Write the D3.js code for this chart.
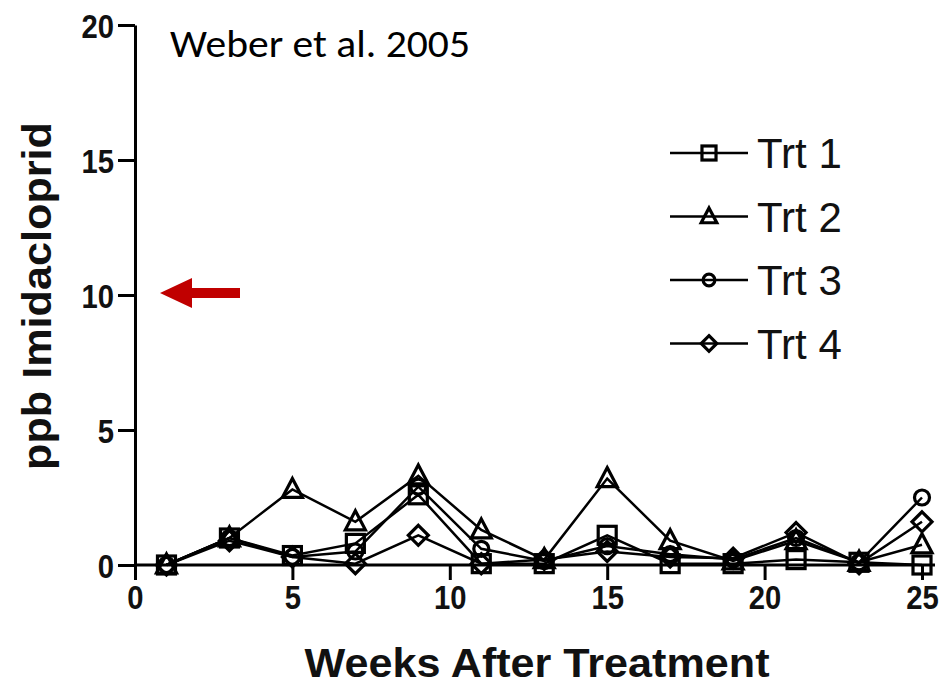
<!DOCTYPE html>
<html>
<head>
<meta charset="utf-8">
<script src="https://cdn.jsdelivr.net/npm/d3@7"></script>
<style>
  body { margin: 0; background: #fff; }
  .tick text { font-family: "Liberation Sans", Arial, sans-serif; font-weight: bold; }
</style>
</head>
<body>
<div id="chart"></div>
<script>
// data
const weeks = [1, 3, 5, 7, 9, 11, 13, 15, 17, 19, 21, 23, 25];
const trt1 = [0, 1.0, 0.35, 0.8, 2.6, 0.05, 0.05, 1.1, 0.05, 0.05, 0.2, 0.1, 0];
const trt2 = [0, 1.0, 2.8, 1.6, 3.3, 1.3, 0.2, 3.2, 0.9, 0.15, 0.9, 0.1, 0.75];
const trt3 = [0, 1.0, 0.3, 0.5, 2.9, 0.6, 0.15, 0.7, 0.4, 0.2, 1.0, 0.1, 2.5];
const trt4 = [0, 0.9, 0.3, 0.05, 1.1, 0.05, 0.2, 0.5, 0.3, 0.25, 1.2, 0.05, 1.6];
const seriesNames = ["Trt 1", "Trt 2", "Trt 3", "Trt 4"];
const seriesShapes = ["square", "triangle", "circle", "diamond"];
const xTicks = [0, 5, 10, 15, 20, 25];
const yTicks = [0, 5, 10, 15, 20];

const series = [trt1, trt2, trt3, trt4].map((vals, i) => ({
    name: seriesNames[i],
    shape: seriesShapes[i],
    values: weeks.map((w, j) => ({week: w, ppb: vals[j]}))
}));

const W = 944, H = 687;
const condense = 0.86;

const svg = d3.select("#chart")
    .append("svg")
    .attr("width", W)
    .attr("height", H);

const x = d3.scaleLinear().domain([0, 25]).range([135, 922]);
const y = d3.scaleLinear().domain([0, 20]).range([565, 25]);

// axes
const xAxis = svg.append("g")
    .attr("transform", `translate(0, ${y(0)})`)
    .call(d3.axisBottom(x).tickValues(xTicks).tickSize(15).tickSizeOuter(0).tickPadding(5));
xAxis.select(".domain").attr("d", `M${x(0)},0H935`);
xAxis.selectAll("line, path").attr("stroke", "#000").attr("stroke-width", 3);
xAxis.selectAll("text")
    .attr("font-size", 34)
    .attr("fill", "#111")
    .attr("transform", `scale(${condense},1)`);

const yAxis = svg.append("g")
    .attr("transform", `translate(${x(0)}, 0)`)
    .call(d3.axisLeft(y).tickValues(yTicks).tickSize(17).tickSizeOuter(0).tickPadding(3));
yAxis.selectAll("line, path").attr("stroke", "#000").attr("stroke-width", 3);
yAxis.selectAll("text")
    .attr("font-size", 34)
    .attr("fill", "#111")
    .attr("dy", "0.36em")
    .attr("x", -21 / condense)
    .attr("transform", `scale(${condense},1)`);

// axis titles
svg.append("text")
    .attr("x", 537)
    .attr("y", 677)
    .attr("text-anchor", "middle")
    .attr("font-family", "Liberation Sans, Arial, sans-serif")
    .attr("font-weight", "bold")
    .attr("font-size", 40)
    .attr("textLength", 465)
    .attr("lengthAdjust", "spacingAndGlyphs")
    .attr("fill", "#111")
    .text("Weeks After Treatment");

svg.append("text")
    .attr("transform", `translate(51, 296) rotate(-90)`)
    .attr("text-anchor", "middle")
    .attr("font-family", "Liberation Sans, Arial, sans-serif")
    .attr("font-weight", "bold")
    .attr("font-size", 40)
    .attr("textLength", 348)
    .attr("lengthAdjust", "spacingAndGlyphs")
    .attr("fill", "#111")
    .text("ppb Imidacloprid");

// citation
svg.append("text")
    .attr("x", 170)
    .attr("y", 57)
    .attr("font-family", "Carlito, 'Open Sans', Lato, sans-serif")
    .attr("font-size", 38)
    .attr("textLength", 300)
    .attr("lengthAdjust", "spacingAndGlyphs")
    .attr("fill", "#000")
    .text("Weber et al. 2005");

// hollow marker shapes (lines show through them, as in the original)
function marker(g, shape, k) {
    if (shape === "square") {
        g.append("rect").attr("x", -9 * k).attr("y", -9 * k).attr("width", 18 * k).attr("height", 18 * k);
    } else if (shape === "triangle") {
        g.append("path").attr("d", `M0,${-11 * k}L${10 * k},${8 * k}L${-10 * k},${8 * k}Z`);
    } else if (shape === "circle") {
        g.append("circle").attr("r", 7.5 * k);
    } else {
        g.append("path").attr("d", `M0,${-10 * k}L${10 * k},0L0,${10 * k}L${-10 * k},0Z`);
    }
    g.selectAll("*").attr("fill", "none").attr("stroke", "#000").attr("stroke-width", 3.2);
}

const line = d3.line()
    .x(d => x(d.week))
    .y(d => y(d.ppb));

series.forEach(s => {
    svg.append("path")
        .datum(s.values)
        .attr("d", line)
        .attr("fill", "none")
        .attr("stroke", "#000")
        .attr("stroke-width", 2.5);
});

series.forEach(s => {
    s.values.forEach(d => {
        const g = svg.append("g").attr("transform", `translate(${x(d.week)}, ${y(d.ppb)})`);
        marker(g, s.shape, 1);
    });
});

// legend
const legend = svg.append("g").attr("transform", "translate(670, 153)");
series.forEach((s, i) => {
    const row = legend.append("g").attr("transform", `translate(0, ${i * 63.5})`);
    row.append("line")
        .attr("x1", 0).attr("x2", 78)
        .attr("stroke", "#000").attr("stroke-width", 2.5);
    marker(row.append("g").attr("transform", "translate(39, 0)"), s.shape, 0.78);
    row.append("text")
        .attr("x", 87)
        .attr("y", 0)
        .attr("dy", "0.36em")
        .attr("font-family", "Liberation Sans, Arial, sans-serif")
        .attr("font-size", 42)
        .attr("fill", "#111")
        .text(s.name);
});

// red arrow pointing at 10 ppb
const arrowY = y(10) - 2;
svg.append("path")
    .attr("d", `M160,${arrowY}L192,${arrowY - 15}L192,${arrowY - 5}L240,${arrowY - 5}L240,${arrowY + 5}L192,${arrowY + 5}L192,${arrowY + 15}Z`)
    .attr("fill", "#c00000");
</script>
</body>
</html>
